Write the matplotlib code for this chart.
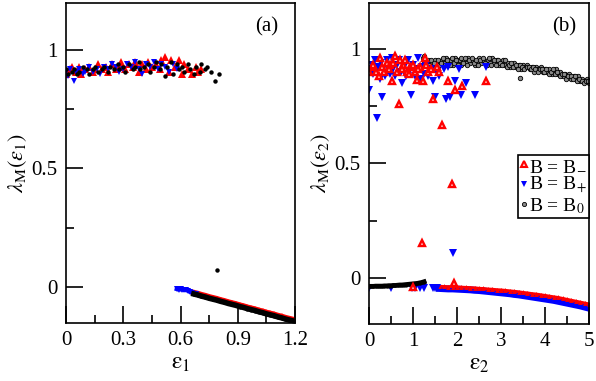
import matplotlib
matplotlib.use("Agg")
import matplotlib.pyplot as plt
from matplotlib.lines import Line2D

plt.rcParams['font.family'] = ['Liberation Serif', 'DejaVu Serif']
plt.rcParams['mathtext.fontset'] = 'stix'

# ---------------- panel (a) data ----------------
a_red_up_x = [0.00,0.02,0.03,0.05,0.07,0.08,0.10,0.12,0.14,0.15,0.17,0.19,0.21,0.22,0.24,0.26,0.28,0.29,0.31,0.33,
              0.35,0.36,0.38,0.40,0.42,0.43,0.45,0.47,0.49,0.50,0.52,0.54,0.55,0.57,0.59,0.61,0.62,0.64,0.66,0.68,0.69,0.71]
a_red_up_y = [0.90,0.92,0.93,0.91,0.93,0.90,0.92,0.93,0.91,0.92,0.94,0.92,0.93,0.91,0.94,0.92,0.93,0.95,0.92,0.94,
              0.93,0.95,0.91,0.94,0.92,0.95,0.93,0.94,0.92,0.96,0.97,0.91,0.96,0.93,0.96,0.90,0.94,0.92,0.90,0.93,0.91,0.92]
a_blue_up_x = [0.00,0.01,0.02,0.04,0.05,0.07,0.09,0.10,0.12,0.14,0.16,0.18,0.20,0.22,0.24,0.26,0.28,0.30,0.32,0.34,
               0.36,0.38,0.40,0.42,0.44,0.46,0.48,0.50,0.52,0.54,0.56,0.58]
a_blue_up_y = [0.91,0.89,0.92,0.87,0.91,0.92,0.90,0.91,0.93,0.91,0.92,0.90,0.93,0.92,0.94,0.93,0.91,0.92,0.94,0.93,
               0.95,0.92,0.90,0.94,0.93,0.95,0.92,0.94,0.93,0.91,0.94,0.92]
a_black_up_x = [0.00,0.01,0.03,0.04,0.06,0.07,0.09,0.11,0.12,0.14,0.15,0.17,0.19,0.20,0.22,0.23,0.25,0.27,0.28,0.30,
                0.31,0.33,0.35,0.36,0.38,0.39,0.41,0.43,0.44,0.46,0.47,0.49,0.50,0.52,0.53,0.55,0.56,0.58,0.59,0.61,
                0.62,0.64,0.65,0.67,0.68,0.70,0.71,0.73,0.74,0.76,0.78,0.80,0.79]
a_black_up_y = [0.92,0.90,0.91,0.92,0.90,0.91,0.93,0.92,0.90,0.92,0.93,0.91,0.92,0.93,0.91,0.93,0.92,0.94,0.92,0.93,
                0.91,0.94,0.92,0.93,0.95,0.92,0.93,0.94,0.91,0.93,0.95,0.92,0.94,0.89,0.93,0.95,0.90,0.94,0.92,0.93,
                0.91,0.94,0.92,0.90,0.93,0.91,0.94,0.92,0.93,0.91,0.87,0.90,0.07]

a_red_low_x = [0.67,0.69,0.71,0.73,0.75,0.77,0.79,0.81,0.83,0.85,0.87,0.89,0.91,0.93,0.95,0.97,0.99,1.01,1.03,1.05,
               1.07,1.09,1.11,1.13,1.15,1.17,1.19]
a_red_low_y = [-0.025,-0.029,-0.034,-0.038,-0.043,-0.047,-0.051,-0.056,-0.060,-0.065,-0.069,-0.073,-0.078,-0.082,
               -0.087,-0.091,-0.095,-0.100,-0.104,-0.109,-0.113,-0.117,-0.122,-0.126,-0.131,-0.135,-0.139]
a_black_low_y = [-0.031,-0.035,-0.040,-0.044,-0.049,-0.053,-0.057,-0.062,-0.066,-0.071,-0.075,-0.079,-0.084,-0.088,
                 -0.093,-0.097,-0.101,-0.106,-0.110,-0.115,-0.119,-0.123,-0.128,-0.132,-0.137,-0.141,-0.145]
a_blue_low_x = [0.58,0.59,0.60,0.61,0.62,0.63,0.64,0.65,0.66,0.67,0.68]
a_blue_low_y = [-0.010,-0.012,-0.011,-0.013,-0.014,-0.013,-0.018,-0.022,-0.025,-0.029,-0.032]

# ---------------- panel (b) data ----------------
b_black_up_x = [1.22,1.25,1.28,1.32,1.35,1.38,1.42,1.45,1.50,1.55,1.60,1.65,1.70,1.75,1.80,1.85,1.90,1.95,2.00,2.05,
                2.10,2.15,2.20,2.25,2.30,2.35,2.40,2.45,2.50,2.55,2.60,2.65,2.70,2.75,2.80,2.85,2.90,2.95,3.00,3.05,
                3.10,3.15,3.20,3.25,3.30,3.35,3.40,3.45,3.50,3.55,3.60,3.65,3.70,3.75,3.80,3.85,3.90,3.95,4.00,4.05,
                4.10,4.15,4.20,4.25,4.30,4.35,4.40,4.45,4.50,4.55,4.60,4.65,4.70,4.75,4.80,4.85,4.90,4.95,5.00,
                1.24,1.30,1.36,1.41,1.47,1.52,1.57,1.63,1.68,1.73,1.78,1.83,1.88,1.93,1.98,2.03,2.08,2.13,2.18,2.23,
                2.28,2.33,2.38,2.43,2.48,2.53,2.58,2.63,2.68,2.73,2.78,2.83,2.88,2.93,2.98,3.03,3.08,3.13,3.18,3.23,
                3.28,3.33,3.38,3.43,3.48,3.53,3.58,3.63,3.68,3.73,3.78,3.83,3.88,3.93,3.98,4.03,4.08,4.13,4.18,4.23,
                4.28,4.33,4.38,4.43,4.48,4.53,4.58,4.63,4.68,4.73,4.78,4.83,4.88,4.93,4.98,3.43]
b_black_up_y = [0.96,0.94,0.95,0.93,0.95,0.92,0.94,0.93,0.95,0.94,0.93,0.95,0.94,0.96,0.94,0.95,0.93,0.96,0.94,0.95,
                0.93,0.95,0.94,0.96,0.94,0.95,0.93,0.94,0.96,0.94,0.95,0.93,0.95,0.94,0.96,0.94,0.95,0.93,0.94,0.95,
                0.93,0.94,0.92,0.93,0.94,0.92,0.93,0.91,0.93,0.92,0.93,0.91,0.92,0.90,0.92,0.91,0.92,0.90,0.91,0.90,
                0.91,0.89,0.90,0.91,0.89,0.90,0.88,0.89,0.88,0.89,0.87,0.88,0.87,0.88,0.86,0.87,0.86,0.87,0.85,
                0.97,0.94,0.93,0.95,0.94,0.92,0.95,0.94,0.96,0.93,0.95,0.93,0.96,0.94,0.95,0.93,0.96,0.94,0.96,0.93,
                0.95,0.96,0.94,0.95,0.93,0.95,0.96,0.94,0.93,0.96,0.93,0.95,0.93,0.95,0.94,0.93,0.95,0.92,0.93,0.94,
                0.92,0.93,0.91,0.93,0.92,0.91,0.92,0.92,0.91,0.92,0.91,0.90,0.91,0.91,0.90,0.91,0.89,0.90,0.91,0.89,
                0.90,0.88,0.89,0.89,0.87,0.88,0.88,0.87,0.88,0.86,0.87,0.86,0.85,0.86,0.86,0.875]
b_black_low_x = [0.00,0.05,0.10,0.15,0.20,0.25,0.30,0.35,0.40,0.45,0.50,0.55,0.60,0.65,0.70,0.75,0.80,0.85,0.90,0.95,
                 1.00,1.05,1.10,1.15,1.20,1.25]
b_black_low_y = [-0.036,-0.036,-0.036,-0.035,-0.035,-0.035,-0.035,-0.034,-0.034,-0.033,-0.033,-0.032,-0.032,-0.031,
                 -0.030,-0.030,-0.029,-0.028,-0.027,-0.026,-0.025,-0.024,-0.023,-0.021,-0.019,-0.016]

b_red_up_x = [0.00,0.06,0.17,0.29,0.40,0.48,0.52,0.58,0.63,0.70,0.68,0.78,0.86,0.93,1.05,1.08,1.16,1.23,1.27,1.35,
              1.46,1.54,1.65,1.80,1.88,1.95,2.11,2.67,0.10,0.22,0.35,0.45,0.55,0.75,0.90,1.00,1.12,1.30,1.40,1.60,
              0.25,0.82,1.20,1.93,1.00]
b_red_up_y = [0.90,0.92,0.90,0.92,0.94,0.93,0.86,0.97,0.90,0.95,0.76,0.93,0.90,0.92,0.90,0.865,0.92,0.86,0.96,0.90,
              0.78,0.92,0.67,0.86,0.41,0.82,0.84,0.86,0.93,0.88,0.90,0.91,0.94,0.91,0.89,0.93,0.91,0.93,0.91,0.90,
              0.96,0.95,0.155,-0.02,-0.04]
b_blue_up_x = [0.00,0.03,0.06,0.10,0.13,0.16,0.18,0.20,0.24,0.27,0.30,0.32,0.36,0.40,0.44,0.48,0.52,0.55,0.60,0.64,
               0.68,0.72,0.75,0.80,0.84,0.88,0.92,0.96,1.00,1.04,1.08,1.12,1.16,1.20,1.25,1.30,1.35,1.40,1.45,1.50,
               1.55,1.60,1.70,1.75,1.80,1.85,1.95,2.05,2.10,2.20,2.40,2.65,1.90,
               0.00,0.50,0.98,1.05,1.15,1.25,1.45,1.50,1.55]
b_blue_up_y = [0.82,0.91,0.93,0.89,0.95,0.90,0.70,0.92,0.87,0.94,0.79,0.91,0.88,0.95,0.92,0.89,0.96,0.91,0.88,0.93,
               0.95,0.90,0.85,0.92,0.88,0.95,0.90,0.80,0.93,0.88,0.91,0.96,0.87,0.92,0.89,0.93,0.88,0.91,0.86,0.79,
               0.90,0.88,0.91,0.78,0.92,0.79,0.86,0.91,0.80,0.85,0.80,0.92,0.11,
               -0.044,-0.045,-0.042,-0.042,-0.043,-0.042,-0.044,-0.045,-0.045]

b_low_x = [1.6,1.7,1.8,1.9,2.0,2.1,2.2,2.3,2.4,2.5,2.6,2.7,2.8,2.9,3.0,3.1,3.2,3.3,3.4,3.5,
           3.6,3.7,3.8,3.9,4.0,4.1,4.2,4.3,4.4,4.5,4.6,4.7,4.8,4.9,5.0]
b_red_low_y = [-0.035,-0.036,-0.037,-0.037,-0.038,-0.039,-0.040,-0.041,-0.042,-0.044,-0.045,-0.047,-0.048,-0.050,
               -0.051,-0.053,-0.055,-0.057,-0.059,-0.062,-0.064,-0.067,-0.069,-0.072,-0.075,-0.078,-0.081,-0.084,
               -0.088,-0.092,-0.096,-0.100,-0.104,-0.108,-0.112]
b_blue_low_y = [-0.045,-0.046,-0.047,-0.047,-0.048,-0.049,-0.050,-0.051,-0.053,-0.054,-0.056,-0.058,-0.060,-0.062,
                -0.064,-0.066,-0.068,-0.071,-0.073,-0.076,-0.079,-0.082,-0.085,-0.088,-0.091,-0.094,-0.097,-0.101,
                -0.105,-0.109,-0.113,-0.117,-0.121,-0.126,-0.131]

legend_labels = [r'B = B$_{-}$', r'B = B$_{+}$', r'B = B$_{0}$']

fig = plt.figure(figsize=(5.96, 3.81), dpi=100)
axa = fig.add_axes([66/596, (381-322.6)/381, 229/596, 319.6/381])
axb = fig.add_axes([369/596, (381-324)/381, 220/596, 321/381])

def style(ax):
    for s in ax.spines.values():
        s.set_linewidth(1.2)
    ax.tick_params(which='both', direction='in', top=False, right=False, labelsize=15, pad=6, width=1.2)
    ax.tick_params(which='major', length=12)
    ax.tick_params(which='minor', length=6)

# panel a
axa.plot(a_red_up_x, a_red_up_y, '^', color='red', ms=6, mew=0, ls='none')
axa.plot(a_blue_up_x, a_blue_up_y, 'v', color='blue', ms=5, mew=0, ls='none')
axa.plot(a_black_up_x, a_black_up_y, 'o', color='black', ms=3.2, mew=0, ls='none')
axa.plot(a_red_low_x, a_red_low_y, '-', color='red', lw=4, marker='^', ms=4, mew=0)
axa.plot(a_blue_low_x, a_blue_low_y, '-', color='blue', lw=3, marker='v', ms=4, mew=0)
axa.plot(a_red_low_x, a_black_low_y, '-', color='black', lw=4, marker='o', ms=3, mew=0)
axa.set_xlim(0, 1.2)
axa.set_ylim(-0.152, 1.2)
axa.set_xticks([0, 0.3, 0.6, 0.9, 1.2])
axa.set_xticklabels(['0', '0.3', '0.6', '0.9', '1.2'])
axa.set_xticks([0.15, 0.45, 0.75, 1.05], minor=True)
axa.set_yticks([0, 0.5, 1])
axa.set_yticklabels(['0', '0.5', '1'])
axa.set_yticks([0.25, 0.75], minor=True)
style(axa)
axa.set_xlabel(r'$\mathrm{\varepsilon}_1$', fontsize=17, labelpad=2)
axa.set_ylabel(r'$\lambda_\mathrm{M}(\varepsilon_1)$', fontsize=16, labelpad=2)
axa.text(0.878, 0.925, '(a)', transform=axa.transAxes, fontsize=15, ha='center', va='center')

# panel b
axb.plot(b_black_up_x, b_black_up_y, 'o', mfc='#8a8a8a', mec='black', ms=3.2, mew=0.6, ls='none')
axb.plot(b_low_x, b_blue_low_y, '-', color='blue', lw=5, marker='v', ms=4, mew=0)
axb.plot(b_low_x, b_red_low_y, '-', color='red', lw=2, marker='^', ms=3.5, mew=0)
axb.plot(b_blue_up_x, b_blue_up_y, 'v', color='blue', ms=5.5, mew=0, ls='none')
axb.plot(b_black_low_x, b_black_low_y, '-', color='black', lw=3.5, marker='o', ms=3, mew=0)
axb.plot(b_red_up_x, b_red_up_y, '^', mfc='#ffd0d0', mec='red', ms=5, mew=1.7, ls='none')
axb.set_xlim(0, 5)
axb.set_ylim(-0.2, 1.2)
axb.set_xticks([0, 1, 2, 3, 4, 5])
axb.set_xticks([0.5, 1.5, 2.5, 3.5, 4.5], minor=True)
axb.set_yticks([0, 0.5, 1])
axb.set_yticklabels(['0', '0.5', '1'])
axb.set_yticks([0.25, 0.75], minor=True)
style(axb)
axb.set_xlabel(r'$\mathrm{\varepsilon}_2$', fontsize=17, labelpad=2)
axb.set_ylabel(r'$\lambda_\mathrm{M}(\varepsilon_2)$', fontsize=16, labelpad=2)
axb.text(0.886, 0.925, '(b)', transform=axb.transAxes, fontsize=15, ha='center', va='center')

handles = [Line2D([], [], marker='^', ls='none', mfc='#ffd0d0', mec='red', ms=4.5, mew=1.5),
           Line2D([], [], marker='v', ls='none', color='blue', ms=5, mew=0),
           Line2D([], [], marker='o', ls='none', mfc='#8a8a8a', mec='black', ms=3, mew=0.6)]
leg = axb.legend(handles, legend_labels, loc='upper right', bbox_to_anchor=(1.0, 0.525),
                 fontsize=14, frameon=True, fancybox=False, edgecolor='black', framealpha=1,
                 borderpad=0.1, labelspacing=0.0, handlelength=0.4, handletextpad=0.1, borderaxespad=0)
leg.get_frame().set_linewidth(1.2)

fig.savefig('out.png', dpi=100)
